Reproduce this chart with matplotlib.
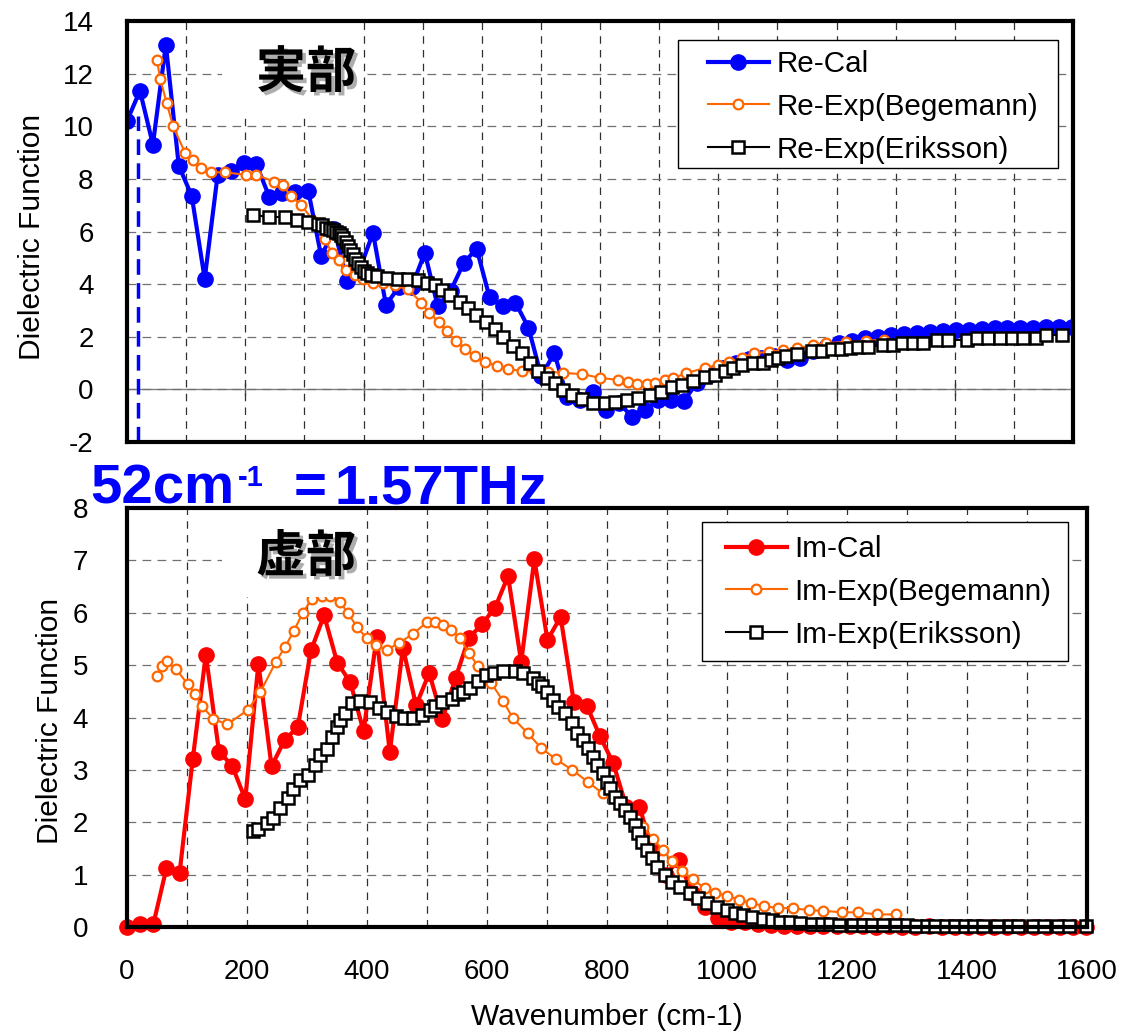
import matplotlib
matplotlib.use('Agg')
import matplotlib.pyplot as plt
import matplotlib.patheffects as pe
from matplotlib.patches import Rectangle

plt.rcParams['font.family'] = ['Liberation Sans', 'DejaVu Sans']
plt.rcParams['axes.unicode_minus'] = False

# ---------------- data ----------------
cal_x = [0.0, 21.9, 43.8, 65.7, 87.6, 109.5, 131.4, 153.3, 175.2, 197.1,
         219.0, 240.9, 262.8, 284.7, 306.6, 328.5, 350.4, 372.3, 394.2, 416.1,
         438.0, 459.9, 481.8, 503.7, 525.6, 547.5, 569.4, 591.3, 613.2, 635.1,
         657.0, 678.9, 700.8, 722.7, 744.6, 766.5, 788.4, 810.3, 832.2, 854.1,
         876.0, 897.9, 919.8, 941.7, 963.6, 985.5, 1007.4, 1029.3, 1051.2, 1073.1,
         1095.0, 1116.9, 1138.8, 1160.7, 1182.6, 1204.5, 1226.4, 1248.3, 1270.2, 1292.1,
         1314.0, 1335.9, 1357.8, 1379.7, 1401.6, 1423.5, 1445.4, 1467.3, 1489.2, 1511.1,
         1533.0, 1554.9, 1576.8, 1598.7]

re_cal = [10.2, 11.35, 9.3, 13.1, 8.5, 7.35, 4.2, 8.15, 8.3, 8.6,
          8.55, 7.3, 7.45, 7.5, 7.55, 5.05, 6.1, 4.1, 4.6, 5.95,
          3.2, 3.9, 3.9, 5.2, 3.15, 3.75, 4.8, 5.35, 3.5, 3.15,
          3.3, 2.35, 0.5, 1.38, -0.3, -0.4, -0.1, -0.8, -0.5, -1.05,
          -0.8, -0.4, -0.4, -0.45, 0.25, 0.55, 0.8, 1.0, 1.15, 1.2,
          1.25, 1.1, 1.2, 1.45, 1.6, 1.75, 1.85, 1.95, 2.0, 2.05,
          2.1, 2.15, 2.18, 2.2, 2.25, 2.27, 2.3, 2.32, 2.32, 2.33,
          2.35, 2.37, 2.37, 2.37]

im_cal = [0.0, 0.05, 0.05, 1.12, 1.03, 3.2, 5.2, 3.35, 3.08, 2.44,
          5.03, 3.07, 3.57, 3.82, 5.28, 5.95, 5.05, 4.67, 3.74, 5.53,
          3.34, 5.33, 4.23, 4.85, 3.97, 4.75, 5.51, 5.78, 6.09, 6.7,
          5.06, 7.02, 5.48, 5.92, 4.3, 4.22, 3.64, 3.13, 2.3, 2.3,
          1.45, 1.0, 1.28, 0.65, 0.38, 0.17, 0.1, 0.1, 0.06, 0.03,
          0.02, 0.02, 0.01, 0.02, 0.01, 0.01, 0.01, 0.0, 0.01, 0.0,
          0.0, 0.01, 0.0, 0.0, 0.0, 0.0, 0.0, 0.0, 0.0, 0.0,
          0.0, 0.0, 0.0, 0.0]

re_beg_x = [51, 56, 67, 78, 98, 111, 126, 142, 166, 201, 219, 248, 264, 277, 295,
            315, 335, 346, 358, 371, 385, 399, 416, 433, 453, 475, 498, 511, 528,
            541, 556, 571, 588, 605, 625, 644, 668, 690, 712, 737, 769, 800, 830,
            847, 862, 879, 893, 910, 923, 946, 977, 999, 1019, 1040, 1061, 1085,
            1110, 1134, 1160, 1183, 1216, 1250, 1281]
re_beg = [12.5, 11.8, 10.9, 10.0, 9.0, 8.7, 8.4, 8.25, 8.25, 8.15, 8.15, 7.9, 7.75, 7.35, 7.0,
          6.4, 5.7, 5.2, 4.9, 4.55, 4.35, 4.2, 4.05, 4.05, 3.95, 3.8, 3.3, 2.9, 2.55,
          2.2, 1.85, 1.55, 1.27, 1.05, 0.9, 0.77, 0.7, 0.68, 0.67, 0.63, 0.58, 0.44, 0.36,
          0.27, 0.2, 0.2, 0.25, 0.36, 0.42, 0.62, 0.81, 0.93, 1.04, 1.2, 1.38, 1.42,
          1.5, 1.57, 1.67, 1.76, 1.8, 1.85, 1.88]

re_eri_x = [213, 241, 267, 287, 306, 323, 330, 337, 343, 348, 353, 358, 362, 366, 370,
            374, 378, 382, 386, 390, 395, 400, 406, 413, 422, 439, 458, 475, 492, 507,
            521, 532, 546, 563, 577, 591, 608, 622, 636, 653, 668, 681, 695, 710, 724,
            737, 752, 769, 788, 808, 825, 845, 864, 884, 904, 921, 938, 957, 977, 994,
            1011, 1025, 1040, 1059, 1075, 1089, 1101, 1114, 1133, 1158, 1176, 1193, 1208,
            1222, 1236, 1254, 1278, 1295, 1310, 1329, 1346, 1370, 1388, 1420, 1438, 1456,
            1476, 1496, 1515, 1538, 1555, 1582]
re_eri = [6.63, 6.55, 6.55, 6.45, 6.37, 6.3, 6.25, 6.15, 6.1, 6.05, 6.0, 5.95, 5.85, 5.75, 5.6,
          5.45, 5.3, 5.15, 4.95, 4.8, 4.65, 4.5, 4.42, 4.35, 4.3, 4.23, 4.2, 4.2, 4.16, 4.05,
          3.97, 3.78, 3.6, 3.33, 3.1, 2.83, 2.56, 2.3, 2.0, 1.65, 1.38, 1.0, 0.68, 0.43, 0.25,
          -0.02, -0.2, -0.37, -0.5, -0.5, -0.47, -0.4, -0.32, -0.2, -0.1, 0.1, 0.17, 0.33, 0.47, 0.55,
          0.7, 0.8, 0.93, 1.0, 1.0, 1.12, 1.18, 1.27, 1.35, 1.44, 1.44, 1.53, 1.53,
          1.57, 1.6, 1.6, 1.68, 1.68, 1.77, 1.77, 1.77, 1.88, 1.88, 1.88, 1.95, 1.96,
          1.96, 1.96, 1.96, 1.95, 2.07, 2.07]

im_beg_x = [50, 58, 66, 82, 101, 113, 125, 144, 167, 201, 222, 248, 263, 278, 293, 308,
            325, 338, 355, 368, 383, 400, 415, 433, 453, 477, 500, 513, 527, 540, 555,
            570, 585, 607, 627, 643, 668, 690, 715, 742, 768, 793, 827, 860, 877, 893,
            908, 925, 943, 963, 980, 1000, 1020, 1040, 1062, 1085, 1110, 1137, 1160,
            1191, 1219, 1250, 1281]
im_beg = [4.8, 4.98, 5.07, 4.92, 4.64, 4.45, 4.22, 3.97, 3.87, 4.14, 4.48, 5.06, 5.34, 5.65, 6.0, 6.26,
          6.32, 6.32, 6.2, 6.0, 5.73, 5.51, 5.38, 5.29, 5.42, 5.6, 5.82, 5.82, 5.76, 5.68, 5.51,
          5.23, 4.98, 4.66, 4.31, 3.99, 3.7, 3.42, 3.2, 3.0, 2.77, 2.55, 2.25, 1.91, 1.68, 1.47,
          1.26, 1.07, 0.91, 0.74, 0.65, 0.6, 0.52, 0.46, 0.4, 0.36, 0.36, 0.32, 0.31,
          0.28, 0.28, 0.24, 0.24]

im_eri_x = [210, 219, 233, 244, 255, 269, 277, 288, 302, 313, 322, 333, 342, 350, 355, 363,
            375, 388, 405, 420, 433, 448, 462, 477, 492, 505, 513, 525, 542, 552, 560, 572,
            585, 598, 612, 627, 647, 660, 677, 685, 692, 700, 710, 718, 730, 742, 750, 760,
            768, 777, 783, 793, 800, 805, 813, 822, 830, 838, 847, 852, 858, 867, 875, 883,
            897, 908, 922, 938, 952, 967, 983, 1000, 1013, 1027, 1042, 1060, 1075, 1088,
            1105, 1122, 1142, 1158, 1172, 1187, 1210, 1227, 1242, 1260, 1282, 1300, 1315,
            1333, 1347, 1365, 1380, 1397, 1412, 1427, 1450, 1472, 1485, 1510, 1528, 1552,
            1570, 1598]
im_eri = [1.83, 1.88, 1.98, 2.08, 2.27, 2.46, 2.63, 2.8, 2.9, 3.09, 3.28, 3.39, 3.62, 3.82, 3.96, 4.08,
          4.27, 4.31, 4.3, 4.18, 4.1, 4.03, 4.0, 4.0, 4.05, 4.14, 4.22, 4.3, 4.35, 4.45, 4.48, 4.56,
          4.69, 4.81, 4.85, 4.89, 4.89, 4.85, 4.75, 4.66, 4.6, 4.49, 4.33, 4.2, 4.08, 3.89, 3.7, 3.57,
          3.42, 3.24, 3.09, 2.94, 2.77, 2.65, 2.48, 2.37, 2.23, 2.1, 1.95, 1.79, 1.62, 1.47, 1.32, 1.15,
          0.99, 0.86, 0.76, 0.65, 0.55, 0.46, 0.38, 0.32, 0.27, 0.23, 0.19, 0.15, 0.13, 0.1,
          0.1, 0.08, 0.06, 0.05, 0.05, 0.04, 0.04, 0.03, 0.03, 0.03, 0.03, 0.03, 0.02,
          0.02, 0.02, 0.02, 0.02, 0.02, 0.02, 0.02, 0.02, 0.02, 0.02, 0.02, 0.02, 0.02,
          0.02, 0.02]

top_labels = ['Re-Cal', 'Re-Exp(Begemann)', 'Re-Exp(Eriksson)']
bot_labels = ['Im-Cal', 'Im-Exp(Begemann)', 'Im-Exp(Eriksson)']
x_ticks = [0, 200, 400, 600, 800, 1000, 1200, 1400, 1600]
top_yticks = [-2, 0, 2, 4, 6, 8, 10, 12, 14]
bot_yticks = [0, 1, 2, 3, 4, 5, 6, 7, 8]
mark_x = 18          # dashed marker line position (cm-1) as drawn
mark_top = 10.4

# ---------------- figure ----------------
W, H = 1122, 1032
fig = plt.figure(figsize=(W / 100, H / 100), dpi=100)


def px_rect(l, t, r, b):
    return [l / W, 1 - b / H, (r - l) / W, (b - t) / H]


ax1 = fig.add_axes(px_rect(127, 21, 1073, 442))
ax2 = fig.add_axes(px_rect(127, 508, 1087, 927))

ORANGE = '#FF6600'

for ax, yt, ypad in ((ax1, top_yticks, 24), (ax2, bot_yticks, 28)):
    ax.set_xlim(0, 1600)
    ax.set_ylim(yt[0], yt[-1])
    ax.set_yticks(yt)
    ax.set_xticks(x_ticks)
    ax.set_xticks([v for v in range(100, 1600, 100)], minor=True)
    ax.set_axisbelow(True)
    ax.grid(True, which='both', axis='x', color='#303030', lw=0.9, linestyle=(0, (6, 5)))
    ax.grid(True, which='major', axis='y', color='#707070', lw=0.9, linestyle=(0, (7, 5)))
    for s in ax.spines.values():
        s.set_linewidth(3.0)
        s.set_color('black')
        s.set_zorder(10)
    ax.tick_params(which='both', length=0, labelsize=20)
    ax.tick_params(axis='y', pad=ypad)
    ax.tick_params(axis='x', pad=23)

ax1.tick_params(axis='x', labelbottom=False)

# zero line with ticks in the upper panel
sec = ax1.secondary_xaxis(2 / 16)
sec.spines['bottom'].set_color('#808080')
sec.spines['bottom'].set_linewidth(1.0)
sec.set_xticks(x_ticks)
sec.tick_params(direction='inout', length=8, width=1, color='#505050', labelbottom=False)

# ---------------- series ----------------
ax1.plot(cal_x, re_cal, color='blue', lw=3, marker='o', ms=11, mfc='blue', mec='blue',
         label=top_labels[0], zorder=3)
ax1.plot(re_beg_x, re_beg, color=ORANGE, lw=1.5, marker='o', ms=7, mfc='white', mec=ORANGE,
         mew=1.6, label=top_labels[1], zorder=3)
ax1.plot(re_eri_x, re_eri, color='black', lw=1.5, marker='s', ms=8, mfc='white', mec='black',
         mew=1.8, label=top_labels[2], zorder=3)
ax1.plot([mark_x, mark_x], [top_yticks[0], mark_top], color='blue', lw=2.5,
         linestyle=(0, (4.5, 2.4)), zorder=2)

ax2.plot(cal_x, im_cal, color='red', lw=3, marker='o', ms=11, mfc='red', mec='red',
         label=bot_labels[0], zorder=3, clip_on=False)
ax2.plot(im_beg_x, im_beg, color=ORANGE, lw=1.5, marker='o', ms=7, mfc='white', mec=ORANGE,
         mew=1.6, label=bot_labels[1], zorder=3)
ax2.plot(im_eri_x, im_eri, color='black', lw=1.5, marker='s', ms=8, mfc='white', mec='black',
         mew=1.8, label=bot_labels[2], zorder=3, clip_on=False)

# legends: frameless content + drawn frame
LFS = 21.3
legkw = dict(loc='upper left', bbox_transform=fig.transFigure, borderaxespad=0, borderpad=0,
             fontsize=LFS, frameon=False, handlelength=2.06, handletextpad=0.25,
             labelspacing=0.5)
for ax, (l, t, r, b), hx, ty in ((ax1, (678, 40, 1058, 168), 708, 50),
                                 (ax2, (702, 522, 1068, 661), 726, 535)):
    ax.add_patch(Rectangle((l / W, 1 - b / H), (r - l) / W, (b - t) / H,
                           transform=fig.transFigure, facecolor='white', edgecolor='black',
                           lw=1.0, zorder=7))
    lg = ax.legend(bbox_to_anchor=(hx / W, 1 - ty / H), **legkw)
    lg.set_zorder(8)

# ---------------- text ----------------
fig.text(32 / W, 1 - 237 / H, 'Dielectric Function', rotation=90, ha='center', va='center',
         fontsize=21.5)
fig.text(50 / W, 1 - 721 / H, 'Dielectric Function', rotation=90, ha='center', va='center',
         fontsize=21.5)
fig.text(607 / W, 1 - 1017 / H, 'Wavenumber (cm-1)', ha='center', va='center', fontsize=21.5)

shadow = [pe.SimplePatchShadow(offset=(2.5, -2.5), shadow_rgbFace='#8a8a8a', alpha=0.7),
          pe.Normal()]
for ax, (l, t, r, b), cy, txt in ((ax1, (222, 21, 362, 113), 73, '実部'),
                                  (ax2, (222, 508, 362, 597), 557, '虚部')):
    ax.add_patch(Rectangle((l / W, 1 - b / H), (r - l) / W, (b - t) / H,
                           transform=fig.transFigure, facecolor='white', edgecolor='none',
                           zorder=5))
    fig.text(306 / W, 1 - cy / H, txt, ha='center', va='center', fontsize=36,
             fontweight='bold', family=['Noto Sans CJK JP', 'DejaVu Sans'],
             path_effects=shadow, zorder=6)

bkw = dict(color='blue', fontweight='bold', family=['Liberation Sans', 'DejaVu Sans'])
fig.text(90 / W, 1 - 503 / H, '52cm', ha='left', va='baseline', fontsize=40.5, **bkw)
fig.text(238 / W, 1 - 486 / H, '-1', ha='left', va='baseline', fontsize=21, **bkw)
fig.text(294 / W, 1 - 503 / H, '=', ha='left', va='baseline', fontsize=40.5, **bkw)
fig.text(335 / W, 1 - 503 / H, '1.57THz', ha='left', va='baseline', fontsize=40.5, **bkw)

fig.savefig('out.png', dpi=100)
